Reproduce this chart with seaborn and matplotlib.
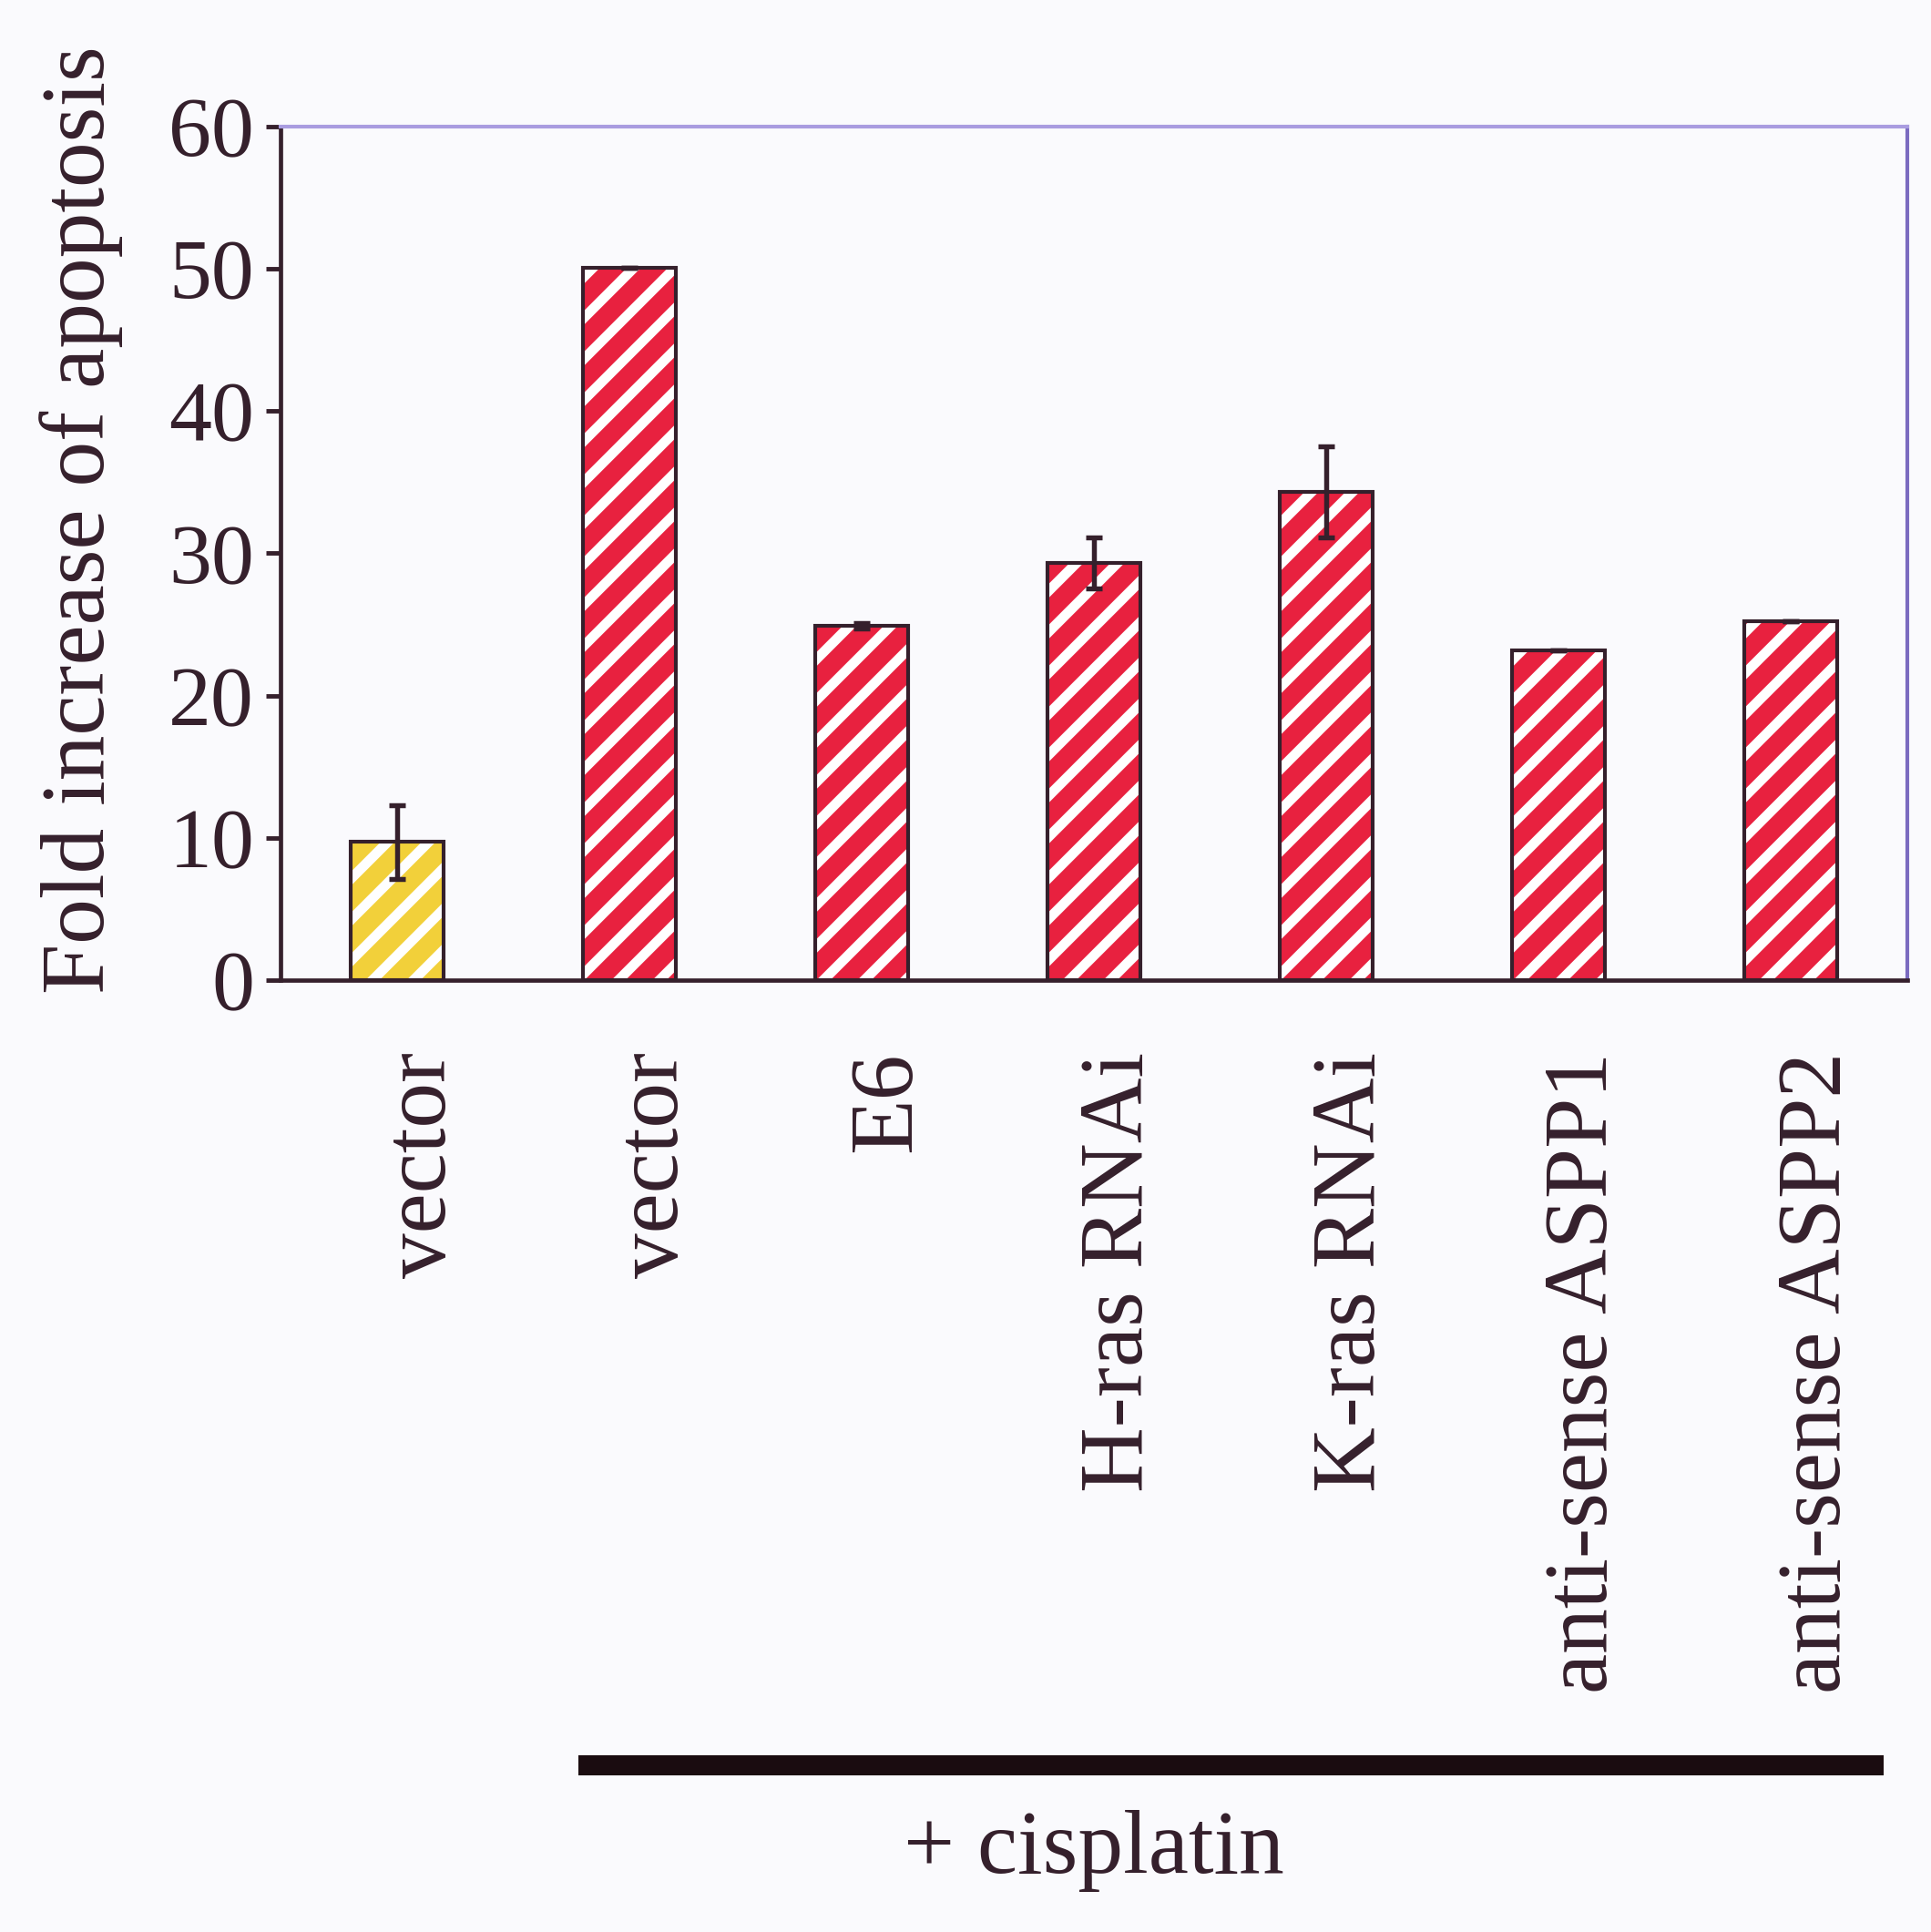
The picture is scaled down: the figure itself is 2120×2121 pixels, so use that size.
import matplotlib
matplotlib.use("Agg")
import matplotlib.pyplot as plt
import matplotlib.transforms as mtransforms
from matplotlib.patches import Rectangle
import numpy as np
import pandas as pd
import seaborn as sns

# values
labels = ["vector", "vector", "E6", "H-ras RNAi", "K-ras RNAi",
          "anti-sense ASPP1", "anti-sense ASPP2"]
treatment = ["none", "cisplatin", "cisplatin", "cisplatin", "cisplatin",
             "cisplatin", "cisplatin"]
fold = [9.7, 50.1, 24.9, 29.3, 34.3, 23.2, 25.2]
err = [2.6, 0.0, 0.2, 1.8, 3.2, 0.0, 0.0]
yticks = [0, 10, 20, 30, 40, 50, 60]

RED = "#e8213f"
YELLOW = "#f2d03a"
DARK = "#35202c"
BG = "#fafafd"
FONT = "Liberation Serif"
DPI = 270

sns.set_style("white")
plt.rcParams["font.family"] = [FONT, "DejaVu Serif"]
plt.rcParams["hatch.linewidth"] = 2.9
plt.rcParams["text.color"] = DARK

df = pd.DataFrame({
    "key": [f"{t}:{l}" for t, l in zip(treatment, labels)],
    "fold": fold,
    "treatment": treatment,
})

fig = plt.figure(figsize=(2120 / DPI, 2121 / DPI), dpi=DPI, facecolor=BG)
ax = fig.add_axes([0.1453, 0.4927, 0.8424, 0.4418])
ax.set_facecolor(BG)

sns.barplot(data=df, x="key", y="fold", hue="treatment",
            palette={"none": YELLOW, "cisplatin": RED}, saturation=1,
            width=0.4, dodge=False, legend=False,
            edgecolor="white", hatch="//", linewidth=0, ax=ax)

# dark outline on top of the white-hatched bars
for p in list(ax.patches):
    ax.add_patch(Rectangle(p.get_xy(), p.get_width(), p.get_height(),
                           fill=False, ec=DARK, lw=1.1, zorder=3))

pos = np.arange(len(fold))
ax.errorbar(pos, fold, yerr=err, fmt="none", ecolor=DARK,
            elinewidth=1.45, capsize=2.5, capthick=1.45, zorder=4)

ax.set_xlim(-0.5, len(fold) - 0.5)
ax.set_ylim(0, 60)
ax.set_yticks(yticks)
ax.set_yticklabels([str(v) for v in yticks], fontsize=25, color=DARK)
ax.set_xticks(pos)
ax.set_xticklabels(labels, rotation=90, fontsize=26.5, color=DARK,
                   ha="center", va="top")
ax.set_xticks(pos[:-1] + 0.5, minor=True)
ax.tick_params(axis="x", which="major", length=0, pad=21)
ax.tick_params(axis="x", which="minor", length=4.4, width=1.3,
               direction="out", color=DARK)
ax.tick_params(axis="y", length=4.4, width=1.3, direction="out",
               color=DARK, pad=3.3, left=True)

shift = mtransforms.ScaledTranslation(7.8 / 72, 0, fig.dpi_scale_trans)
for t in ax.get_xticklabels():
    t.set_transform(t.get_transform() + shift)

ax.set_xlabel("")
ax.set_ylabel("Fold increase of apoptosis", fontsize=26.5, color=DARK)
ax.yaxis.set_label_coords(-0.097, 0.539)

for side in ["left", "bottom"]:
    ax.spines[side].set_color(DARK)
    ax.spines[side].set_linewidth(1.25)
ax.spines["top"].set_color("#a99ce0")
ax.spines["top"].set_linewidth(1.1)
ax.spines["right"].set_color("#7b6bc0")
ax.spines["right"].set_linewidth(1.1)

# "+ cisplatin" bracket under the treated samples
blend = mtransforms.blended_transform_factory(ax.transData, ax.transAxes)
ax.plot([0.78, 6.4], [-0.92, -0.92], transform=blend, clip_on=False,
        color="#1a0c10", lw=5.9, solid_capstyle="butt")
ax.text(3.0, -1.02, "+ cisplatin", transform=blend, ha="center",
        va="center", fontsize=26.5, color=DARK)

fig.savefig("out.png", dpi=DPI, facecolor=BG)
